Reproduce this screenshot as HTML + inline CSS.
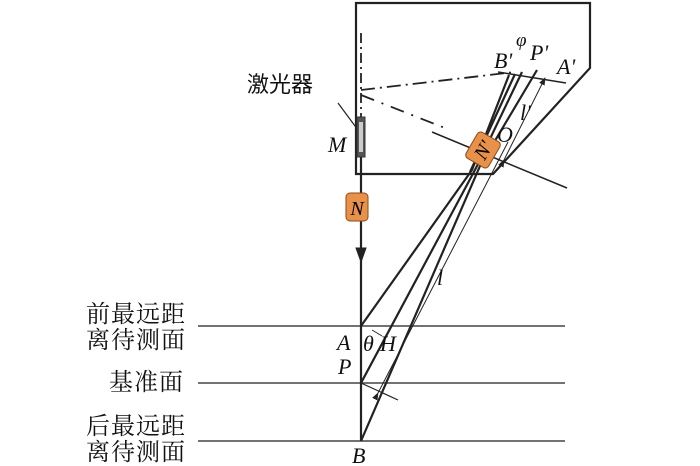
<html><body style="margin:0;background:#fff">
<svg width="700" height="466" viewBox="0 0 700 466" xmlns="http://www.w3.org/2000/svg" style="font-family:'Liberation Serif',serif">
<defs><marker id="ar" markerWidth="8" markerHeight="8" refX="7" refY="4" orient="auto"><path d="M0,1 L8,4 L0,7 Z" fill="#222"/></marker></defs>
<g stroke="#222" fill="none">
<path d="M356,3 H590 V68 L493,174 H356 Z" stroke-width="2.2"/>
<g stroke-width="1.4" stroke="#444">
<line x1="198" y1="326" x2="565" y2="326"/><line x1="198" y1="383" x2="565" y2="383"/><line x1="198" y1="441" x2="565" y2="441"/>
</g>
<line x1="361" y1="155" x2="361" y2="441" stroke-width="2.2"/>
<path d="M361,262 L356,248 L366,248 Z" fill="#222"/>
<line x1="361" y1="33" x2="361" y2="120" stroke-dasharray="10,4,2,4" stroke-width="1.8"/>
<line x1="361" y1="90" x2="515" y2="72" stroke-dasharray="14,5,2,5" stroke-width="1.8"/>
<line x1="361" y1="95" x2="450" y2="130" stroke-dasharray="14,8,2,8" stroke-width="1.8"/>
<line x1="338" y1="103" x2="358" y2="130" stroke-width="1.2"/>
<line x1="432" y1="132" x2="567" y2="188" stroke-width="1.5"/>
<line x1="498" y1="72" x2="566" y2="83" stroke-width="1.5"/>
<g stroke-width="2.2">
<polyline points="361,326 472,170 509,75"/>
<polyline points="361,383 476,168 522,72"/>
<polyline points="361,441 480,166 537,70"/>
<line x1="470" y1="172" x2="515" y2="74"/>
</g>
<line x1="378" y1="393" x2="508" y2="142" stroke-width="1" marker-start="url(#ar)"/>
<line x1="504" y1="160" x2="545" y2="78" stroke-width="1" marker-start="url(#ar)" marker-end="url(#ar)"/>
<line x1="361" y1="383" x2="398" y2="400" stroke-width="1.2"/>
<line x1="372" y1="330" x2="382" y2="336" stroke-width="0.9"/>
</g>
<rect x="357" y="117" width="8" height="40" fill="#555" stroke="#333"/>
<rect x="359" y="122" width="4" height="30" fill="#ccc"/>
<rect x="346" y="193" width="22" height="28" rx="4" fill="#e8914a" stroke="#8a4a1a"/>
<text x="357" y="215" font-size="20" font-style="italic" text-anchor="middle">N</text>
<g transform="translate(483,150) rotate(-60)"><rect x="-15" y="-13" width="30" height="26" rx="4" fill="#e8914a" stroke="#8a4a1a"/>
<text x="0" y="7" font-size="20" font-style="italic" text-anchor="middle">N'</text></g>
<g font-size="22" font-style="italic" fill="#111">
<text x="328" y="152">M</text><text x="497" y="142">O</text>
<text x="494" y="68">B'</text><text x="516" y="46" font-size="19">φ</text><text x="530" y="60">P'</text><text x="557" y="74">A'</text>
<text x="520" y="120">l'</text><text x="437" y="285">l</text>
<text x="337" y="350">A</text><text x="363" y="351">θ</text><text x="380" y="351">H</text>
<text x="338" y="374">P</text><text x="352" y="463">B</text>
</g>
<g font-family="'Liberation Serif','Noto Serif CJK SC',serif" font-size="24" fill="#111" letter-spacing="1">
<text x="247" y="92" font-size="22" font-family="'Liberation Sans','Noto Sans CJK SC',sans-serif" letter-spacing="0">激光器</text>
<text x="86" y="322">前最远距</text><text x="86" y="348">离待测面</text>
<text x="109" y="390">基准面</text>
<text x="86" y="434">后最远距</text><text x="86" y="460">离待测面</text>
</g>
</svg>
</body></html>
